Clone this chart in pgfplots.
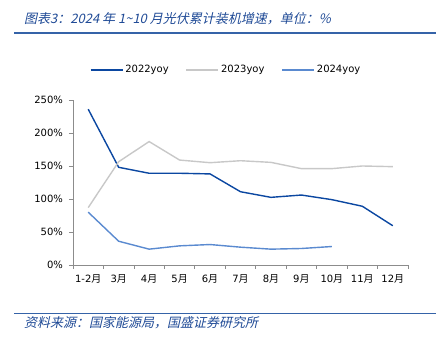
\documentclass[border=0pt]{standalone}
\usepackage{fontspec}
\usepackage{pgfplots}
\pgfplotsset{compat=1.18}
\setmainfont{DejaVu Sans}
\newfontfamily\cjk{Noto Sans CJK SC}
\newfontfamily\titlefont[FakeSlant=0.22]{Noto Sans CJK SC}
\definecolor{c22}{HTML}{0B47A1}
\definecolor{c23}{HTML}{C8C8C8}
\definecolor{c24}{HTML}{5A8AD0}
\definecolor{titleblue}{HTML}{1F4A96}
\definecolor{rule}{HTML}{3563A8}
\definecolor{axgray}{HTML}{8C8C8C}
\begin{document}
\begin{tikzpicture}
\path[use as bounding box] (0pt,0pt) rectangle (436pt,344pt);
\node[anchor=base west,inner sep=0pt,text=titleblue,font=\titlefont\fontsize{13}{15}\selectfont] at (24pt,320pt) {图表3：2024 年 1\textasciitilde10 月光伏累计装机增速，单位：\%};
\draw[rule,line width=1.3pt] (14pt,311pt) -- (436pt,311pt);
\draw[rule,line width=1.3pt] (14pt,30.7pt) -- (436pt,30.7pt);
\node[anchor=base west,inner sep=0pt,text=titleblue,font=\titlefont\fontsize{13}{15}\selectfont] at (24pt,16pt) {资料来源：国家能源局，国盛证券研究所};
\begin{axis}[
  at={(73pt,79pt)}, anchor=south west,
  scale only axis, width=335pt, height=165pt,
  xmin=-0.5, xmax=10.5, ymin=0, ymax=250,
  axis x line*=bottom, axis y line*=left,
  axis line style={axgray, line width=0.8pt},
  xtick={0,...,10},
  xticklabels={1-2{\cjk 月},3{\cjk 月},4{\cjk 月},5{\cjk 月},6{\cjk 月},7{\cjk 月},8{\cjk 月},9{\cjk 月},10{\cjk 月},11{\cjk 月},12{\cjk 月}},
  major x tick style={draw=none},
  minor xtick={-0.5,0.5,...,10.5},
  minor tick length=4pt,
  minor x tick style={axgray, line width=0.8pt},
  ytick={0,50,...,250},
  yticklabel={\pgfmathprintnumber{\tick}\%},
  major tick length=4pt,
  tick align=outside,
  major y tick style={axgray, line width=0.8pt},
  ticklabel style={font=\fontsize{10}{12}\selectfont, text=black},
  /pgf/number format/assume math mode=true,
  xticklabel style={yshift=-2pt},
  yticklabel style={xshift=-2.5pt},
  legend style={at={(0.457,1.182)}, anchor=center, draw=none, fill=none,
    legend columns=3, font=\fontsize{10}{12}\selectfont,
    /tikz/every even column/.append style={column sep=15pt}},
  legend image code/.code={\draw[#1] (0pt,0pt) -- (32pt,0pt);},
  every axis plot/.append style={line width=1.4pt, mark=none},
]
\addplot[c22] coordinates {(0,236) (1,148) (2,139) (3,139) (4,138) (5,111) (6,102.5) (7,106) (8,99) (9,89) (10,59.5)};
\addplot[c23] coordinates {(0,87) (1,156.5) (2,187) (3,159) (4,155) (5,158) (6,155.5) (7,146) (8,146) (9,150) (10,149)};
\addplot[c24] coordinates {(0,80) (1,36) (2,24) (3,29) (4,31) (5,27) (6,24) (7,25) (8,28)};
\legend{2022yoy,2023yoy,2024yoy}
\end{axis}
\end{tikzpicture}
\end{document}
